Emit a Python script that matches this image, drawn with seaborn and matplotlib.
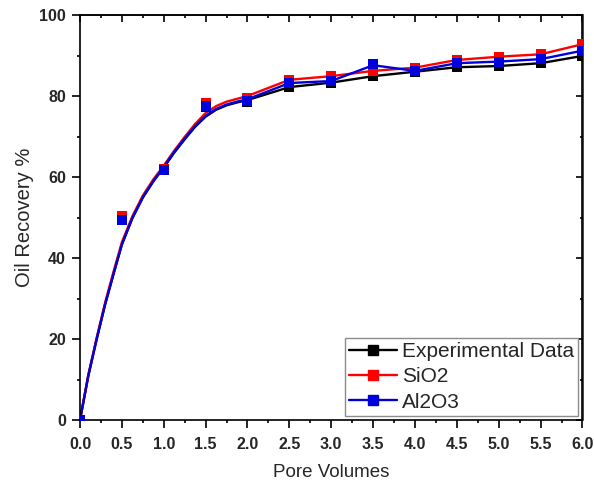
import numpy as np
import pandas as pd
import matplotlib
matplotlib.use("Agg")
import matplotlib.pyplot as plt
import seaborn as sns
from matplotlib.lines import Line2D
from matplotlib.ticker import MultipleLocator

# ---- data ----
pore_volumes = [0.0, 0.5, 1.0, 1.5, 2.0, 2.5, 3.0, 3.5, 4.0, 4.5, 5.0, 5.5, 6.0]
exp_recovery = [0.0, 49.5, 61.8, 77.3, 78.6, 82.2, 83.3, 84.9, 86.0, 87.1, 87.4, 88.1, 89.9]
sio2_recovery = [0.0, 50.3, 62.0, 78.3, 79.5, 84.0, 84.9, 86.2, 87.0, 88.9, 89.7, 90.3, 92.8]
al2o3_recovery = [0.0, 49.5, 61.7, 77.5, 78.8, 83.2, 83.7, 87.8, 86.2, 88.1, 88.5, 89.1, 91.2]

# smoothed curves as drawn in the reference
curve_pv = [0.0, 0.1, 0.2, 0.3, 0.4, 0.5, 0.625, 0.75, 0.875, 1.0, 1.125, 1.25, 1.375,
            1.5, 1.625, 1.75, 1.875, 2.0, 2.5, 3.0, 3.5, 4.0, 4.5, 5.0, 5.5, 6.0]
exp_curve = [0.0, 11.0, 20.0, 28.5, 36.0, 43.3, 49.8, 54.9, 58.9, 62.3, 66.0, 69.3, 72.4,
             74.9, 76.6, 77.7, 78.4, 79.0, 82.2, 83.3, 84.9, 86.0, 87.1, 87.4, 88.1, 89.9]
sio2_curve = [0.0, 11.2, 20.4, 29.0, 36.6, 43.9, 50.3, 55.4, 59.4, 62.8, 66.5, 69.9, 73.1,
              75.8, 77.5, 78.6, 79.3, 80.0, 84.0, 84.9, 86.2, 87.0, 88.9, 89.7, 90.3, 92.8]
al2o3_curve = [0.0, 11.0, 20.1, 28.6, 36.1, 43.4, 49.9, 55.0, 59.0, 62.5, 66.2, 69.5, 72.6,
               75.1, 76.8, 77.9, 78.6, 79.2, 83.2, 83.7, 87.6, 86.2, 88.1, 88.5, 89.1, 91.2]

series_names = ["Experimental Data", "SiO2", "Al2O3"]
series_colors = ["#000000", "#FF0000", "#0000DD"]

points = pd.DataFrame({
    "pv": pore_volumes * 3,
    "rec": exp_recovery + sio2_recovery + al2o3_recovery,
    "series": sum([[n] * len(pore_volumes) for n in series_names], []),
})
curves = pd.DataFrame({
    "pv": curve_pv * 3,
    "rec": exp_curve + sio2_curve + al2o3_curve,
    "series": sum([[n] * len(curve_pv) for n in series_names], []),
})

sns.set_theme(style="white")
plt.rcParams["font.family"] = ["Liberation Sans", "DejaVu Sans"]

fig = plt.figure(figsize=(5.94, 4.88), dpi=100)
ax = fig.add_axes([80 / 594, 68 / 488, 502.5 / 594, 405 / 488])

for name, col in zip(series_names, series_colors):
    sns.lineplot(data=curves[curves.series == name], x="pv", y="rec", color=col,
                 linewidth=1.7, ax=ax, legend=False, sort=False)
    sns.scatterplot(data=points[points.series == name], x="pv", y="rec", color=col,
                    marker="s", s=48, linewidth=0, ax=ax, legend=False, zorder=3)

ax.set_xlim(0, 6)
ax.set_ylim(0, 100)
ax.xaxis.set_major_locator(MultipleLocator(0.5))
ax.xaxis.set_minor_locator(MultipleLocator(0.25))
ax.yaxis.set_major_locator(MultipleLocator(20))
ax.yaxis.set_minor_locator(MultipleLocator(10))
ax.xaxis.set_major_formatter(matplotlib.ticker.FormatStrFormatter("%.1f"))

for sp in ax.spines.values():
    sp.set_color("black")
    sp.set_linewidth(1.2)
    sp.set_visible(True)

ax.tick_params(which="both", direction="out", color="black", width=1.2,
               left=True, bottom=True, top=False, right=False)
ax.tick_params(which="major", length=6)
ax.tick_params(which="minor", length=2.5)
ax.tick_params(axis="x", which="major", pad=6, labelsize=11.5)
ax.tick_params(axis="y", which="major", pad=4, labelsize=11.5)
for lab in ax.get_xticklabels() + ax.get_yticklabels():
    lab.set_fontweight("bold")

top = ax.secondary_xaxis("top")
top.xaxis.set_major_locator(MultipleLocator(0.5))
top.xaxis.set_minor_locator(MultipleLocator(0.25))
top.tick_params(which="both", direction="in", width=1.2, labeltop=False, color="black")
top.tick_params(which="major", length=5)
top.tick_params(which="minor", length=2.5)
top.spines["top"].set_linewidth(1.2)

right = ax.secondary_yaxis("right")
right.yaxis.set_major_locator(MultipleLocator(20))
right.yaxis.set_minor_locator(MultipleLocator(10))
right.tick_params(which="both", direction="in", width=1.2, labelright=False, color="black")
right.tick_params(which="major", length=5)
right.tick_params(which="minor", length=2.5)
right.spines["right"].set_linewidth(1.2)

ax.set_xlabel("Pore Volumes", fontsize=13.5, labelpad=9)
ax.set_ylabel("Oil Recovery %", fontsize=14.5, labelpad=4)

handles = [Line2D([], [], color=c, linewidth=1.7, marker="s", markersize=6.5)
           for c in series_colors]
leg = ax.legend(handles, series_names, loc="lower right", fontsize=15,
                frameon=True, fancybox=False, framealpha=1, edgecolor="#8c8c8c",
                borderpad=0.2, labelspacing=0.3, handlelength=2.3,
                handletextpad=0.25, borderaxespad=0.2)
leg.get_frame().set_linewidth(1.0)

fig.savefig("out.png", dpi=100)
